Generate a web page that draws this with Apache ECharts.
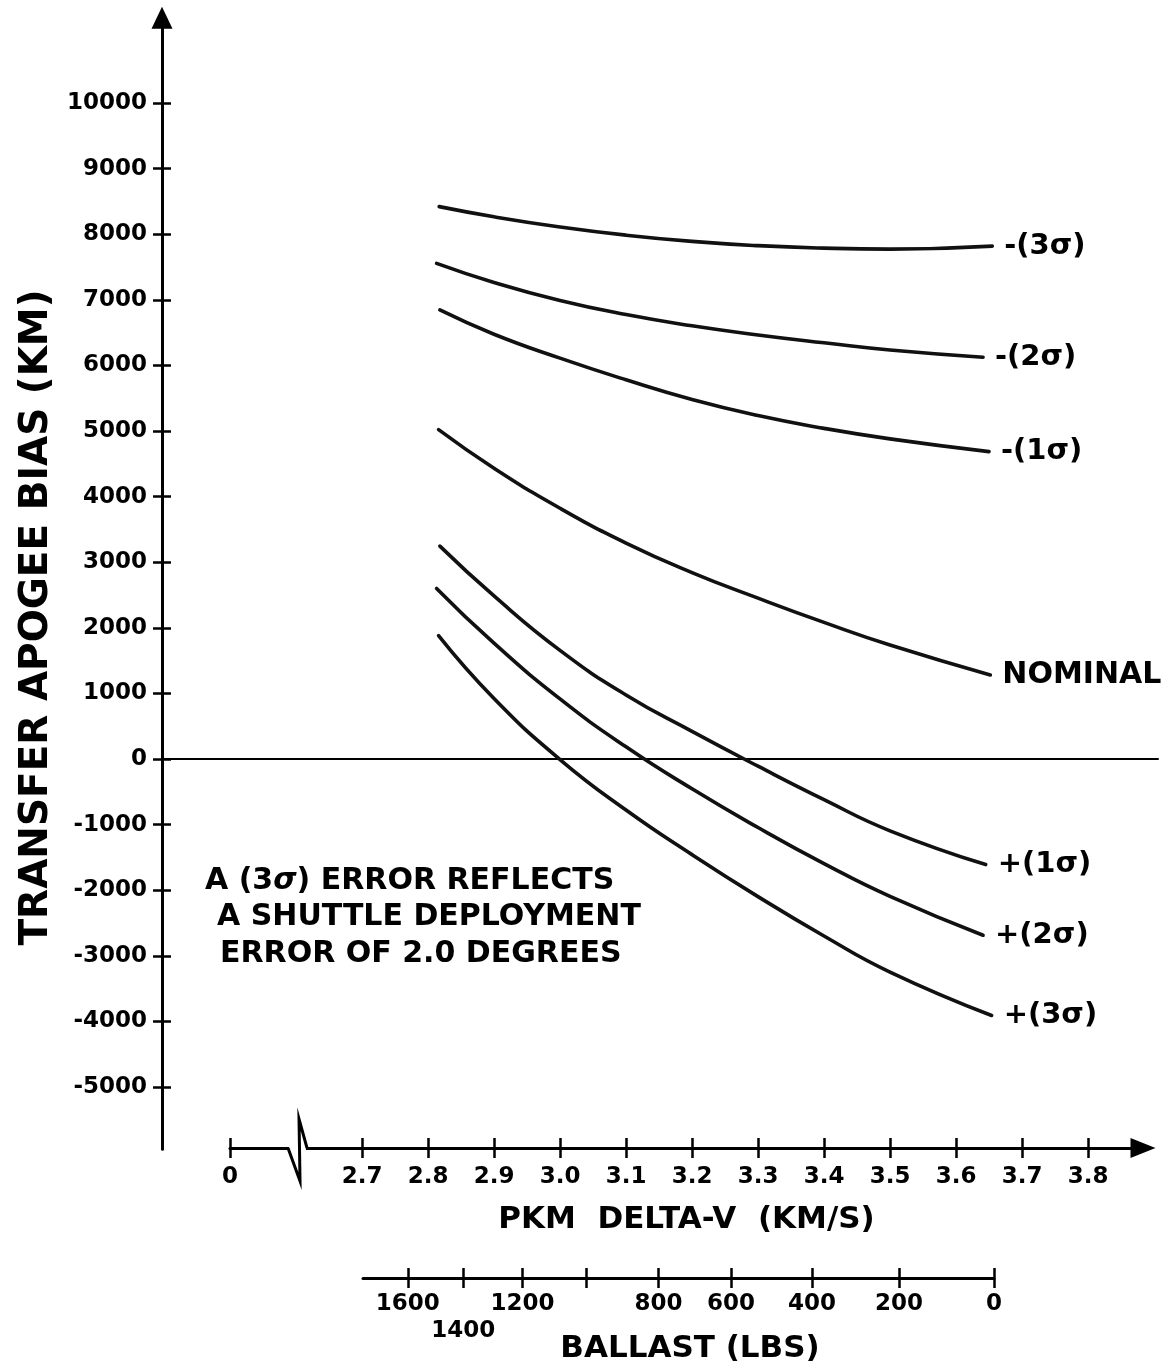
<!DOCTYPE html>
<html><head><meta charset="utf-8">
<script src="https://cdn.jsdelivr.net/npm/echarts@6/dist/echarts.min.js"></script>
<style>html,body{margin:0;padding:0;background:#fff}#c{width:1176px;height:1369px}</style>
</head><body><div id="c"></div>
<script>
// ---- data ----
const seriesNames = ['-(3σ)', '-(2σ)', '-(1σ)', 'NOMINAL', '+(1σ)', '+(2σ)', '+(3σ)'];

const dvMinus3 = [2.817, 2.9, 3.0, 3.1, 3.2, 3.3, 3.4, 3.5, 3.655];
const biasMinus3 = [8420, 8265, 8110, 7985, 7890, 7825, 7787, 7772, 7818];

const dvMinus2 = [2.813, 2.9, 3.0, 3.1, 3.2, 3.3, 3.4, 3.5, 3.641];
const biasMinus2 = [7555, 7264, 6989, 6774, 6604, 6464, 6344, 6234, 6124];

const dvMinus1 = [2.818, 2.9, 3.0, 3.1, 3.2, 3.3, 3.4, 3.5, 3.650];
const biasMinus1 = [6845, 6475, 6110, 5780, 5480, 5235, 5040, 4880, 4685];

const dvNominal = [2.816, 2.9, 3.0, 3.1, 3.2, 3.3, 3.4, 3.5, 3.652];
const biasNominal = [5020, 4432, 3822, 3292, 2842, 2452, 2082, 1737, 1281];

const dvPlus1 = [2.818, 2.9, 3.0, 3.1, 3.2, 3.3, 3.4, 3.5, 3.645];
const biasPlus1 = [3245, 2485, 1655, 975, 420, -110, -620, -1095, -1610];

const dvPlus2 = [2.813, 2.9, 3.0, 3.1, 3.2, 3.3, 3.4, 3.5, 3.641];
const biasPlus2 = [2600, 1765, 915, 185, -455, -1045, -1595, -2095, -2687];

const dvPlus3 = [2.816, 2.9, 3.0, 3.1, 3.2, 3.3, 3.4, 3.5, 3.654];
const biasPlus3 = [1880, 922, -8, -778, -1458, -2098, -2698, -3248, -3910];

const biasTicks = [-5000, -4000, -3000, -2000, -1000, 0, 1000, 2000, 3000, 4000, 5000, 6000, 7000, 8000, 9000, 10000];
const dvTicks = [2.5, 2.7, 2.8, 2.9, 3.0, 3.1, 3.2, 3.3, 3.4, 3.5, 3.6, 3.7, 3.8];
const dvTickLabels = ['0', '2.7', '2.8', '2.9', '3.0', '3.1', '3.2', '3.3', '3.4', '3.5', '3.6', '3.7', '3.8'];

const ballastLbs = [1600, 1400, 1200, 1000, 800, 600, 400, 200, 0];
const ballastDeltaV = [2.769, 2.853, 2.943, 3.040, 3.149, 3.259, 3.382, 3.514, 3.658];
const ballastUpperLabels = ['1600', '', '1200', '', '800', '600', '400', '200', '0'];
const ballastLowerLabels = ['', '1400', '', '', '', '', '', '', ''];

const noteLines = ['A (3{i|σ}) ERROR REFLECTS', 'A SHUTTLE DEPLOYMENT', 'ERROR OF 2.0 DEGREES'];

// ---- build ----
const FONT = 'DejaVu Sans';
const BLACK = '#000';
const pairs = (xs, ys) => xs.map((x, i) => [x, ys[i]]);
const curveData = [
  pairs(dvMinus3, biasMinus3), pairs(dvMinus2, biasMinus2), pairs(dvMinus1, biasMinus1),
  pairs(dvNominal, biasNominal), pairs(dvPlus1, biasPlus1), pairs(dvPlus2, biasPlus2), pairs(dvPlus3, biasPlus3)
];
const nearestIdx = (arr, v) => { let b = 0; arr.forEach((a, i) => { if (Math.abs(a - v) < Math.abs(arr[b] - v)) b = i; }); return b; };
const upperVals = ballastDeltaV.filter((v, i) => ballastUpperLabels[i] !== '');
const lowerVals = ballastDeltaV.filter((v, i) => ballastLowerLabels[i] !== '');

const tickFont = { fontFamily: FONT, fontWeight: 'bold', fontSize: 23, color: BLACK };
const nameFont = { fontFamily: FONT, fontWeight: 'bold', fontSize: 31, color: BLACK };
const tickLine = { color: BLACK, width: 2.5 };

const chart = echarts.init(document.getElementById('c'));
const option = {
  animation: false,
  backgroundColor: '#fff',
  grid: [
    { left: 162, top: 17.7, width: 996, height: 1131.6, outerBoundsMode: 'none' },
    { left: 230, top: 1147, width: 913, height: 1, outerBoundsMode: 'none' },
    { left: 363, top: 1277, width: 631, height: 1, outerBoundsMode: 'none' }
  ],
  xAxis: [
    { gridIndex: 0, type: 'value', min: 2.39697, max: 3.90606,
      axisLine: { show: true, onZero: true, onZeroAxisIndex: 0, lineStyle: { color: BLACK, width: 2 } },
      axisTick: { show: false }, axisLabel: { show: false }, splitLine: { show: false } },
    { gridIndex: 1, type: 'value', min: 2.5, max: 3.883, position: 'bottom',
      axisLine: { show: true, onZero: false, symbol: ['none', 'triangle'], symbolSize: [20, 25], lineStyle: { color: BLACK, width: 3 } },
      axisTick: { show: true, inside: true, length: 10, customValues: dvTicks, lineStyle: tickLine },
      axisLabel: Object.assign({ customValues: dvTicks, margin: 18, hideOverlap: false,
        formatter: v => dvTickLabels[nearestIdx(dvTicks, v)] }, tickFont),
      splitLine: { show: false },
      name: 'PKM  DELTA-V  (KM/S)', nameLocation: 'middle', nameGap: 56, nameMoveOverlap: false, nameTextStyle: nameFont },
    { gridIndex: 1, type: 'value', min: 2.5, max: 3.883, position: 'bottom',
      axisLine: { show: false },
      axisTick: { show: true, inside: false, length: 10, customValues: dvTicks, lineStyle: tickLine },
      axisLabel: { show: false }, splitLine: { show: false } },
    { gridIndex: 2, type: 'value', min: 2.701, max: 3.658, position: 'bottom',
      axisLine: { show: true, onZero: false, lineStyle: { color: BLACK, width: 3 } },
      axisTick: { show: true, inside: true, length: 10, customValues: ballastDeltaV, lineStyle: tickLine },
      axisLabel: Object.assign({ customValues: upperVals, margin: 15, hideOverlap: false,
        formatter: v => ballastUpperLabels[nearestIdx(ballastDeltaV, v)] }, tickFont),
      splitLine: { show: false },
      name: 'BALLAST (LBS)', nameLocation: 'middle', nameGap: 55, nameMoveOverlap: false,
      nameTextStyle: Object.assign({ padding: [0, 0, 0, 23] }, nameFont) },
    { gridIndex: 2, type: 'value', min: 2.701, max: 3.658, position: 'bottom',
      axisLine: { show: false },
      axisTick: { show: true, inside: false, length: 10, customValues: ballastDeltaV, lineStyle: tickLine },
      axisLabel: Object.assign({ customValues: lowerVals, margin: 42, hideOverlap: false,
        formatter: v => ballastLowerLabels[nearestIdx(ballastDeltaV, v)] }, tickFont),
      splitLine: { show: false } }
  ],
  yAxis: [
    { gridIndex: 0, type: 'value', min: -5950, max: 11300, position: 'left',
      axisLine: { show: true, onZero: false, symbol: ['none', 'triangle'], symbolSize: [21, 22], lineStyle: { color: BLACK, width: 3 } },
      axisTick: { show: true, inside: true, length: 9, customValues: biasTicks, lineStyle: tickLine },
      axisLabel: Object.assign({ customValues: biasTicks, margin: 15, hideOverlap: false, formatter: v => String(v) }, tickFont),
      splitLine: { show: false },
      name: 'TRANSFER APOGEE BIAS (KM)', nameLocation: 'middle', nameRotate: 90, nameGap: 106, nameMoveOverlap: false,
      nameTextStyle: { fontFamily: FONT, fontWeight: 'bold', fontSize: 39, color: BLACK, padding: [0, 68, 0, 0] } },
    { gridIndex: 0, type: 'value', min: -5950, max: 11300, position: 'left',
      axisLine: { show: false, onZero: false },
      axisTick: { show: true, inside: false, length: 9, customValues: biasTicks, lineStyle: tickLine },
      axisLabel: { show: false }, splitLine: { show: false } },
    { gridIndex: 1, type: 'value', min: 0, max: 1, show: false },
    { gridIndex: 2, type: 'value', min: 0, max: 1, show: false }
  ],
  series: seriesNames.map((n, i) => ({
    name: n, type: 'line', xAxisIndex: 0, yAxisIndex: 0,
    data: curveData[i], smooth: 0.5, showSymbol: false, silent: true,
    lineStyle: { color: '#111', width: 3.6, cap: 'round' },
    endLabel: { show: true, formatter: p => p.seriesName, distance: 12,
      fontFamily: FONT, fontWeight: 'bold', fontSize: n === 'NOMINAL' ? 30 : 29, color: BLACK }
  })),
  graphic: [
    { id: 'note0', type: 'text', left: 205, top: 866, z: 50,
      style: { text: noteLines[0], font: 'bold 30px "DejaVu Sans"', fill: BLACK,
        rich: { i: { fontStyle: 'italic', fontWeight: 'bold', fontSize: 30, fontFamily: FONT, fill: BLACK } } } },
    { id: 'note1', type: 'text', left: 217, top: 902, z: 50, style: { text: noteLines[1], font: 'bold 30px "DejaVu Sans"', fill: BLACK } },
    { id: 'note2', type: 'text', left: 220, top: 939, z: 50, style: { text: noteLines[2], font: 'bold 30px "DejaVu Sans"', fill: BLACK } }
  ]
};
chart.setOption(option);

// axis-break glyph on the delta-V axis between 0 and 2.7
const bp = chart.convertToPixel({ gridIndex: 1 }, [2.6, 0]);
chart.setOption({
  graphic: [
    { id: 'breakCover', type: 'line', z: 60, shape: { x1: bp[0] - 7, y1: bp[1], x2: bp[0] + 10, y2: bp[1] }, style: { stroke: '#fff', lineWidth: 6 } },
    { id: 'breakZig', type: 'polyline', z: 61, shape: { points: [[bp[0] - 8, bp[1]], [bp[0] + 4, bp[1] + 33], [bp[0] + 3, bp[1] - 29], [bp[0] + 11, bp[1]]] },
      style: { stroke: BLACK, lineWidth: 3, fill: null, lineJoin: 'miter' } }
  ]
});
</script>
</body></html>
